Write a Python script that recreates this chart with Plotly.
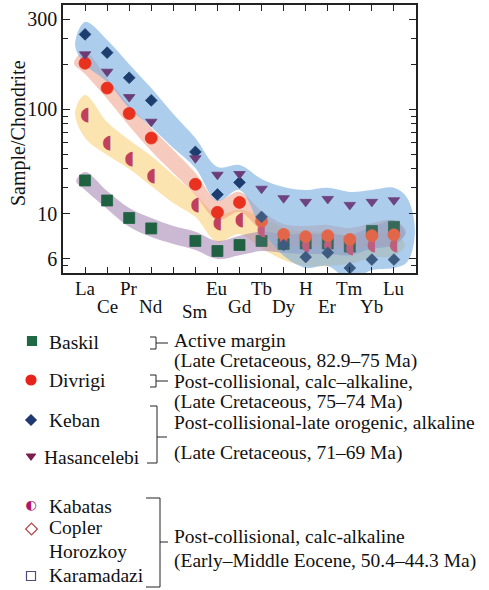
import plotly.graph_objects as go

W, H = 489, 590
FONT = "Liberation Serif"

# REE order on the x axis (Pm not analysed)
elements = ["La", "Ce", "Pr", "Nd", "Pm", "Sm", "Eu", "Gd", "Tb", "Dy", "Ho", "Er", "Tm", "Yb", "Lu"]
element_labels = ["La", "Ce", "Pr", "Nd", "", "Sm", "Eu", "Gd", "Tb", "Dy", "H", "Er", "Tm", "Yb", "Lu"]

# chondrite-normalised REE patterns
baskil = [33.5, 24.6, 18.8, 16.0, None, 13.2, 11.3, 12.4, 13.2, 12.6, 12.7, 12.7, 12.1, 15.4, 16.4]
divrigi = [204, 139, 94, 64.4, None, 31.6, 20.5, 23.9, 17.9, 14.6, 14.1, 14.3, 13.5, 14.3, 14.5]
keban = [318, 240, 163, 115, None, 52, 27, 32.5, 19.1, 12.4, 10.3, 11.0, 8.7, 9.9, 9.9]
hasancelebi = [234, 179, 121, 82.8, None, 47.2, 36.6, 37.0, 29.5, 25.5, 24.1, 25.2, 23.0, 24.1, 24.7]
kabatas = [91.9, 59.3, 46.7, 35.6, None, 22.8, 17.4, 18.1, 15.6, 13.3, 12.4, 12.4, 11.8, 12.4, 12.4]

# y-axis ticks
y_tick_vals = [10, 20, 100, 400]
y_tick_text = ["6", "10", "100", "300"]
y_minor_vals = [9, 30, 40, 50, 60, 70, 80, 90, 200, 300]

# field envelopes (upper / lower bound per element) and rounded end caps
band_x = list(range(15))
blue_hi = [385, 292, 201, 139, 93.3, 64.4, 41.2, 42.5, 34.3, 30.3, 28.9, 29.9, 28.1, 28.9, 29.9]
blue_lo = [201, 153, 102, 76.4, 55.3, 40.6, 24.4, 28.9, 15.9, 10.5, 8.71, 8.98, 7.24, 8.44, 8.71]
blue_cap_l = ([-0.45], [270])
blue_cap_r = ([14.6, 14.95, 14.6], [25.6, 15.2, 9.55])

pink_hi = [243, 162, 107, 75.2, 53.6, 37.6, 24.8, 28.1, 20.9, 17.1, 16.6, 16.9, 16.1, 17.4, 18.2]
pink_lo = [173, 118, 77.6, 52.8, 37.6, 26.8, 18.2, 20.6, 15.4, 12.6, 12.0, 12.2, 11.7, 12.2, 12.4]
pink_cap_l = ([-0.5], [204])
pink_cap_r = ([14.55], [15.2])

yellow_hi = [125, 82.5, 62.5, 48.9, 36.5, 27.2, 19.9, 21.3, 19.0, 16.1, 15.2, 15.2, 14.3, 14.7, 14.7]
yellow_lo = [64.5, 49.6, 40.0, 30.8, 23.7, 19.1, 13.0, 14.7, 11.8, 9.85, 8.98, 8.98, 9.27, 10.2, 10.5]
yellow_cap_l = ([-0.45], [96.2])
yellow_cap_r = ([14.5], [12.4])

purple_hi = [38.2, 28.5, 21.9, 18.8, 16.6, 15.2, 13.2, 14.3, 15.2, 14.7, 14.7, 14.7, 14.5, 16.4, 18.0]
purple_lo = [28.9, 21.6, 16.4, 14.0, 12.6, 11.5, 10.0, 10.6, 11.3, 11.0, 10.8, 10.8, 10.6, 11.7, 12.4]
purple_cap_l = ([-0.4], [33.2])
purple_cap_r = ([14.5], [14.9])

fig = go.Figure()


def add_band(hi, lo, cap_l, cap_r, color):
    xs = band_x[2:] + cap_r[0] + band_x[::-1] + cap_l[0] + band_x[:3]
    ys = hi[2:] + cap_r[1] + lo[::-1] + cap_l[1] + hi[:3]
    fig.add_trace(go.Scatter(
        x=xs, y=ys, mode="lines",
        line=dict(width=0, shape="spline", smoothing=1.0),
        fill="toself", fillcolor=color, hoverinfo="skip", showlegend=False,
    ))


add_band(yellow_hi, yellow_lo, yellow_cap_l, yellow_cap_r, "rgba(248,206,112,0.55)")
add_band(purple_hi, purple_lo, purple_cap_l, purple_cap_r, "rgba(160,128,176,0.55)")
add_band(pink_hi, pink_lo, pink_cap_l, pink_cap_r, "rgba(240,150,125,0.50)")
add_band(blue_hi, blue_lo, blue_cap_l, blue_cap_r, "rgba(118,172,224,0.60)")

xs = list(range(len(elements)))


def tone(light, heavy):
    # heavy REE (Tb onwards) sit inside the overlapping fields and look paler
    return [light if i < 8 else heavy for i in xs]


def add_points(vals, symbol, size, colors, name):
    fig.add_trace(go.Scatter(
        x=xs, y=vals, mode="markers", name=name, showlegend=False,
        marker=dict(symbol=symbol, size=size, color=colors,
                    line=dict(width=0.8, color=colors)),
    ))


add_points(baskil, "square", 11, tone("#1f6242", "#36695a"), "Baskil")
fig.add_trace(go.Scatter(
    x=xs, y=kabatas, mode="text", text=["◖" if v is not None else "" for v in kabatas],
    textfont=dict(family="DejaVu Sans", size=19, color=tone("#c0405e", "#bf5f7e")),
    name="Kabatas", showlegend=False,
))
add_points(divrigi, "circle", 12, tone("#e8311e", "#e2674a"), "Divrigi")
add_points(keban, "diamond", 9, tone("#1c3d6e", "#3d5a80"), "Keban")
add_points(hasancelebi, "triangle-down", 10, tone("#6a3d78", "#6e4382"), "Hasancelebi")

# legend symbols, drawn on a full-figure pixel overlay
leg_sym = [
    (32, 341, "square", 9, "#1f6a45"),
    (31, 380, "circle", 10, "#e8231c"),
    (31, 420, "diamond", 8, "#1f3a70"),
    (31, 456, "triangle-down", 8, "#7b1e4e"),
    (31.5, 529, "diamond-open", 9, "#b04848"),
    (31, 576, "square-open", 9, "#4d4d7a"),
]
for x, y, sym, sz, col in leg_sym:
    fig.add_trace(go.Scatter(
        x=[x], y=[y], xaxis="x2", yaxis="y2", mode="markers", showlegend=False,
        marker=dict(symbol=sym, size=sz, color=col, line=dict(width=1.2, color=col)),
        hoverinfo="skip",
    ))
fig.add_trace(go.Scatter(
    x=[31], y=[506], xaxis="x2", yaxis="y2", mode="text", text=["◐"], showlegend=False,
    textfont=dict(family="DejaVu Sans", size=13, color="#b0156a"), hoverinfo="skip",
))

annotations = []
# element names in two staggered rows under the axis
for i, lab in enumerate(element_labels):
    if not lab:
        continue
    y = 288 if i % 2 == 0 else 306
    if lab == "Sm":
        y = 311
    annotations.append(dict(
        x=i, y=y, xref="x", yref="y2", text=lab, showarrow=False,
        xanchor="center", yanchor="middle", font=dict(family=FONT, size=19, color="#111"),
    ))

annotations.append(dict(
    x=18, y=133, xref="x2", yref="y2", text="Sample/Chondrite", textangle=-90,
    showarrow=False, font=dict(family=FONT, size=20, color="#111"),
))

legend_text = [
    (47, 342, "Baskil"),
    (47, 380, "Divrigi"),
    (47, 420, "Keban"),
    (42, 457, "Hasancelebi"),
    (47, 506, "Kabatas"),
    (47, 527, "Copler"),
    (47, 551, "Horozkoy"),
    (47, 575, "Karamadazi"),
    (172, 340, "Active margin"),
    (172, 361, "(Late Cretaceous, 82.9\u201375 Ma)"),
    (172, 381, "Post-collisional, calc\u2013alkaline,"),
    (172, 402, "(Late Cretaceous, 75\u201374 Ma)"),
    (172, 422, "Post-collisional-late orogenic, alkaline"),
    (172, 453, "(Late Cretaceous, 71\u201369 Ma)"),
    (172, 536, "Post-collisional, calc-alkaline"),
    (172, 561, "(Early\u2013Middle Eocene, 50.4\u201344.3 Ma)"),
]
for x, y, t in legend_text:
    annotations.append(dict(
        x=x, y=y, xref="x2", yref="y2", text=t, showarrow=False,
        xanchor="left", yanchor="middle", font=dict(family=FONT, size=19.5, color="#111"),
    ))

bracket_paths = [
    "M 150,337 H 156 V 349 H 150 M 156,343 H 168",
    "M 150,375 H 156 V 387 H 150 M 156,381 H 168",
    "M 150,406 H 157 V 463 H 147 M 157,437 H 167",
    "M 146,498 H 160 V 587 H 146 M 160,542 H 168",
]
shapes = [
    dict(type="path", path=p, xref="x2", yref="y2", line=dict(color="#222", width=1))
    for p in bracket_paths
]

fig.update_layout(
    width=W, height=H,
    margin=dict(l=0, r=0, t=0, b=0),
    paper_bgcolor="white", plot_bgcolor="rgba(0,0,0,0)",
    showlegend=False,
    annotations=annotations,
    shapes=shapes,
    xaxis=dict(
        domain=[63 / W, 416 / W], range=[-1, 15],
        tickvals=xs, showticklabels=False,
        ticks="inside", ticklen=6, tickwidth=1.2, tickcolor="#222",
        showline=True, linecolor="#222", linewidth=1.5, mirror="ticks",
        showgrid=False, zeroline=False, automargin=False,
    ),
    yaxis=dict(
        type="log", domain=[1 - 273 / H, 1 - 5 / H], range=[0.906, 2.699],
        tickvals=y_tick_vals, ticktext=y_tick_text,
        ticks="inside", ticklen=7, tickwidth=1.2, tickcolor="#222",
        minor=dict(tickvals=y_minor_vals, ticks="inside", ticklen=5, tickcolor="#222"),
        showline=True, linecolor="#222", linewidth=1.5, mirror="ticks",
        showgrid=False, zeroline=False, automargin=False,
        tickfont=dict(family=FONT, size=20, color="#111"),
    ),
    xaxis2=dict(domain=[0, 1], range=[0, W], visible=False, anchor="y2", fixedrange=True),
    yaxis2=dict(domain=[0, 1], range=[H, 0], visible=False, anchor="x2", fixedrange=True),
)

fig.write_html("out.html")
